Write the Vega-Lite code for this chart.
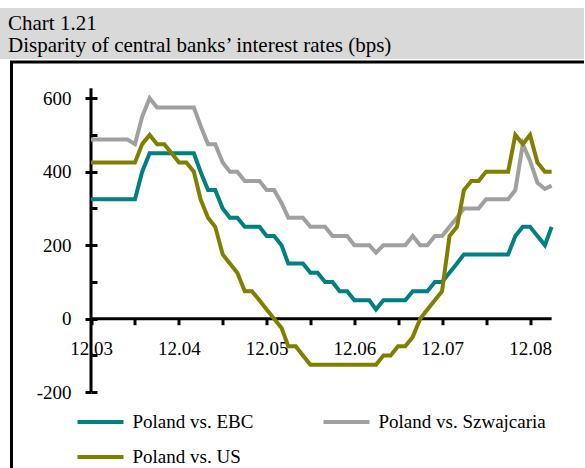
{
  "$schema": "https://vega.github.io/schema/vega-lite/v6.json",
  "background": "white",
  "padding": {"left": 0, "top": 8, "right": -5, "bottom": -5},
  "config": {"view": {"stroke": null}, "font": "Liberation Serif"},
  "spacing": 1,
  "vconcat": [
    {
      "width": 585,
      "height": 51,
      "view": {"fill": "#d9d9d9", "stroke": null},
      "title": {
        "text": ["Chart 1.21", "Disparity of central banks’ interest rates (bps)"],
        "anchor": "start",
        "orient": "top",
        "offset": -48,
        "dx": 8,
        "font": "Liberation Serif",
        "fontSize": 21,
        "fontWeight": "normal",
        "color": "black",
        "lineHeight": 22
      },
      "data": {"values": []},
      "mark": "rule",
      "encoding": {}
    },
    {
      "spacing": 8.5,
      "hconcat": [
        {
          "width": 1,
          "height": 1,
          "data": {"values": []},
          "mark": "rule",
          "encoding": {}
        },
        {
          "width": 576,
          "height": 409,
          "view": {"stroke": "black", "strokeWidth": 3, "fill": "white"},
          "data": {
            "values": [
              {"date": "2003-12-01", "EBC": 325, "Szwajcaria": 487.5, "US": 425},
              {"date": "2004-01-01", "EBC": 325, "Szwajcaria": 487.5, "US": 425},
              {"date": "2004-02-01", "EBC": 325, "Szwajcaria": 487.5, "US": 425},
              {"date": "2004-03-01", "EBC": 325, "Szwajcaria": 487.5, "US": 425},
              {"date": "2004-04-01", "EBC": 325, "Szwajcaria": 487.5, "US": 425},
              {"date": "2004-05-01", "EBC": 325, "Szwajcaria": 487.5, "US": 425},
              {"date": "2004-06-01", "EBC": 325, "Szwajcaria": 475, "US": 425},
              {"date": "2004-07-01", "EBC": 400, "Szwajcaria": 550, "US": 475},
              {"date": "2004-08-01", "EBC": 450, "Szwajcaria": 600, "US": 500},
              {"date": "2004-09-01", "EBC": 450, "Szwajcaria": 575, "US": 475},
              {"date": "2004-10-01", "EBC": 450, "Szwajcaria": 575, "US": 475},
              {"date": "2004-11-01", "EBC": 450, "Szwajcaria": 575, "US": 450},
              {"date": "2004-12-01", "EBC": 450, "Szwajcaria": 575, "US": 425},
              {"date": "2005-01-01", "EBC": 450, "Szwajcaria": 575, "US": 425},
              {"date": "2005-02-01", "EBC": 450, "Szwajcaria": 575, "US": 400},
              {"date": "2005-03-01", "EBC": 400, "Szwajcaria": 525, "US": 325},
              {"date": "2005-04-01", "EBC": 350, "Szwajcaria": 475, "US": 275},
              {"date": "2005-05-01", "EBC": 350, "Szwajcaria": 475, "US": 250},
              {"date": "2005-06-01", "EBC": 300, "Szwajcaria": 425, "US": 175},
              {"date": "2005-07-01", "EBC": 275, "Szwajcaria": 400, "US": 150},
              {"date": "2005-08-01", "EBC": 275, "Szwajcaria": 400, "US": 125},
              {"date": "2005-09-01", "EBC": 250, "Szwajcaria": 375, "US": 75},
              {"date": "2005-10-01", "EBC": 250, "Szwajcaria": 375, "US": 75},
              {"date": "2005-11-01", "EBC": 250, "Szwajcaria": 375, "US": 50},
              {"date": "2005-12-01", "EBC": 225, "Szwajcaria": 350, "US": 25},
              {"date": "2006-01-01", "EBC": 225, "Szwajcaria": 350, "US": 0},
              {"date": "2006-02-01", "EBC": 200, "Szwajcaria": 315, "US": -25},
              {"date": "2006-03-01", "EBC": 150, "Szwajcaria": 275, "US": -75},
              {"date": "2006-04-01", "EBC": 150, "Szwajcaria": 275, "US": -75},
              {"date": "2006-05-01", "EBC": 150, "Szwajcaria": 275, "US": -100},
              {"date": "2006-06-01", "EBC": 125, "Szwajcaria": 250, "US": -125},
              {"date": "2006-07-01", "EBC": 125, "Szwajcaria": 250, "US": -125},
              {"date": "2006-08-01", "EBC": 100, "Szwajcaria": 250, "US": -125},
              {"date": "2006-09-01", "EBC": 100, "Szwajcaria": 225, "US": -125},
              {"date": "2006-10-01", "EBC": 75, "Szwajcaria": 225, "US": -125},
              {"date": "2006-11-01", "EBC": 75, "Szwajcaria": 225, "US": -125},
              {"date": "2006-12-01", "EBC": 50, "Szwajcaria": 200, "US": -125},
              {"date": "2007-01-01", "EBC": 50, "Szwajcaria": 200, "US": -125},
              {"date": "2007-02-01", "EBC": 50, "Szwajcaria": 200, "US": -125},
              {"date": "2007-03-01", "EBC": 25, "Szwajcaria": 180, "US": -125},
              {"date": "2007-04-01", "EBC": 50, "Szwajcaria": 200, "US": -100},
              {"date": "2007-05-01", "EBC": 50, "Szwajcaria": 200, "US": -100},
              {"date": "2007-06-01", "EBC": 50, "Szwajcaria": 200, "US": -75},
              {"date": "2007-07-01", "EBC": 50, "Szwajcaria": 200, "US": -75},
              {"date": "2007-08-01", "EBC": 75, "Szwajcaria": 225, "US": -50},
              {"date": "2007-09-01", "EBC": 75, "Szwajcaria": 200, "US": 0},
              {"date": "2007-10-01", "EBC": 75, "Szwajcaria": 200, "US": 25},
              {"date": "2007-11-01", "EBC": 100, "Szwajcaria": 225, "US": 50},
              {"date": "2007-12-01", "EBC": 100, "Szwajcaria": 225, "US": 75},
              {"date": "2008-01-01", "EBC": 125, "Szwajcaria": 250, "US": 225},
              {"date": "2008-02-01", "EBC": 150, "Szwajcaria": 275, "US": 250},
              {"date": "2008-03-01", "EBC": 175, "Szwajcaria": 300, "US": 350},
              {"date": "2008-04-01", "EBC": 175, "Szwajcaria": 300, "US": 375},
              {"date": "2008-05-01", "EBC": 175, "Szwajcaria": 300, "US": 375},
              {"date": "2008-06-01", "EBC": 175, "Szwajcaria": 325, "US": 400},
              {"date": "2008-07-01", "EBC": 175, "Szwajcaria": 325, "US": 400},
              {"date": "2008-08-01", "EBC": 175, "Szwajcaria": 325, "US": 400},
              {"date": "2008-09-01", "EBC": 175, "Szwajcaria": 325, "US": 400},
              {"date": "2008-10-01", "EBC": 225, "Szwajcaria": 350, "US": 500},
              {"date": "2008-11-01", "EBC": 250, "Szwajcaria": 475, "US": 475},
              {"date": "2008-12-01", "EBC": 250, "Szwajcaria": 430, "US": 500},
              {"date": "2009-01-01", "EBC": 225, "Szwajcaria": 370, "US": 425},
              {"date": "2009-02-01", "EBC": 200, "Szwajcaria": 353, "US": 400},
              {"date": "2009-03-01", "EBC": 250, "Szwajcaria": 362, "US": 400}
            ]
          },
          "transform": [{"fold": ["EBC", "Szwajcaria", "US"], "as": ["series", "value"]}],
          "resolve": {"axis": {"y": "independent"}},
          "layer": [
            {
              "mark": {"type": "rule", "strokeWidth": 3, "color": "black"},
              "encoding": {
                "x": {"field": "date", "type": "temporal", "aggregate": "min", "title": null},
                "x2": {"field": "date", "aggregate": "max"},
                "y": {"datum": 0, "type": "quantitative", "title": null, "axis": null}
              }
            },
            {
              "mark": {"type": "rule", "strokeWidth": 3, "color": "black"},
              "encoding": {
                "x": {"field": "date", "type": "temporal", "aggregate": "min", "title": null},
                "y": {
                  "datum": -200,
                  "type": "quantitative",
                  "title": null,
                  "axis": {
                    "orient": "left",
                    "offset": -79.5,
                    "domain": false,
                    "grid": false,
                    "labels": false,
                    "values": [-200, -100, 0, 100, 200, 300, 400, 500, 600],
                    "tickSize": -6,
                    "tickWidth": 3,
                    "tickColor": "black"
                  }
                },
                "y2": {"datum": 627}
              }
            },
            {
              "mark": {"type": "line", "strokeWidth": 4},
              "encoding": {
                "x": {
                  "field": "date",
                  "type": "temporal",
                  "title": null,
                  "scale": {
                    "type": "utc",
                    "nice": false,
                    "domain": [
                      {"year": 2003, "month": 1, "date": 4, "hours": 3, "utc": true},
                      {"year": 2009, "month": 7, "date": 28, "hours": 7, "utc": true}
                    ]
                  },
                  "axis": {
                    "orient": "bottom",
                    "offset": -152.3,
                    "domain": false,
                    "grid": false,
                    "values": [
                      {"year": 2003, "month": 12, "date": 1, "utc": true},
                      {"year": 2004, "month": 6, "date": 1, "utc": true},
                      {"year": 2004, "month": 12, "date": 1, "utc": true},
                      {"year": 2005, "month": 6, "date": 1, "utc": true},
                      {"year": 2005, "month": 12, "date": 1, "utc": true},
                      {"year": 2006, "month": 6, "date": 1, "utc": true},
                      {"year": 2006, "month": 12, "date": 1, "utc": true},
                      {"year": 2007, "month": 6, "date": 1, "utc": true},
                      {"year": 2007, "month": 12, "date": 1, "utc": true},
                      {"year": 2008, "month": 6, "date": 1, "utc": true},
                      {"year": 2008, "month": 12, "date": 1, "utc": true}
                    ],
                    "labelExpr": "utcmonth(datum.value) === 11 ? utcFormat(datum.value, '%m.%y') : ''",
                    "tickSize": 6,
                    "tickWidth": 3,
                    "tickColor": "black",
                    "labelFont": "Liberation Serif",
                    "labelFontSize": 19,
                    "labelColor": "black",
                    "labelPadding": 15,
                    "labelFlush": false,
                    "labelOverlap": false
                  }
                },
                "y": {
                  "field": "value",
                  "type": "quantitative",
                  "title": null,
                  "scale": {"domain": [-414.4, 698.5], "nice": false, "zero": false},
                  "axis": {
                    "orient": "left",
                    "offset": -79.5,
                    "domain": false,
                    "grid": false,
                    "values": [-200, 0, 200, 400, 600],
                    "tickSize": 6,
                    "tickWidth": 3,
                    "tickColor": "black",
                    "labelFont": "Liberation Serif",
                    "labelFontSize": 19,
                    "labelColor": "black",
                    "labelPadding": 14,
                    "labelExpr": "replace(datum.label, '\u2212', '-')"
                  }
                },
                "color": {
                  "field": "series",
                  "type": "nominal",
                  "scale": {
                    "domain": ["EBC", "Szwajcaria", "US"],
                    "range": ["#008080", "#a0a0a0", "#808000"]
                  },
                  "legend": {
                    "orient": "none",
                    "direction": "horizontal",
                    "legendX": 75.5,
                    "legendY": 389,
                    "columns": 2,
                    "title": null,
                    "padding": 0,
                    "symbolType": "stroke",
                    "symbolSize": 2116,
                    "symbolStrokeWidth": 4,
                    "labelFont": "Liberation Serif",
                    "labelFontSize": 19,
                    "labelColor": "black",
                    "labelOffset": 7,
                    "labelLimit": 0,
                    "columnPadding": 62,
                    "rowPadding": -20,
                    "labelExpr": "'Poland vs. ' + datum.label"
                  }
                }
              }
            }
          ]
        }
      ]
    }
  ]
}
